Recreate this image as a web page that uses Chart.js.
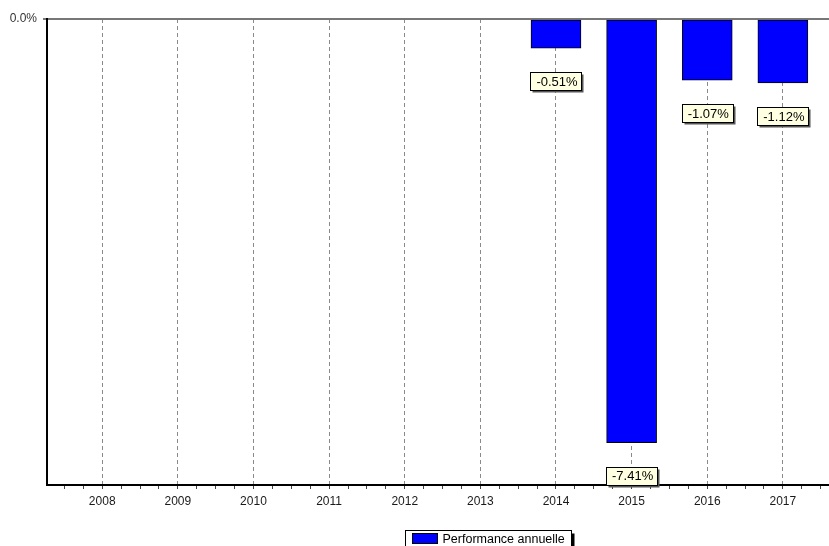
<!DOCTYPE html>
<html>
<head>
<meta charset="utf-8">
<script src="https://cdn.jsdelivr.net/npm/chart.js@4/dist/chart.umd.min.js"></script>
<style>
  html, body { margin: 0; padding: 0; background: #fff; }
  #wrap { width: 829px; height: 546px; }
</style>
</head>
<body>
<div id="wrap"><canvas id="graf" width="829" height="546"></canvas></div>
<script>
// donnees du graphique
const annees = [2008, 2009, 2010, 2011, 2012, 2013, 2014, 2015, 2016, 2017];
const performances = [null, null, null, null, null, null, -0.51, -7.41, -1.07, -1.12];
const etiquettes = ["", "", "", "", "", "", "-0.51%", "-7.41%", "-1.07%", "-1.12%"];
const nomSerie = "Performance annuelle";

const police = "'Liberation Sans', Arial, sans-serif";

// etiquettes jaunes sous les barres + legende encadree
const pluginEtiquettes = {
    id: "etiquettes",
    afterDatasetsDraw(chart) {
        const ctx = chart.ctx;
        const meta = chart.getDatasetMeta(0);
        ctx.save();
        ctx.font = "13px " + police;
        ctx.textAlign = "center";
        ctx.textBaseline = "middle";
        meta.data.forEach((bar, i) => {
            const txt = etiquettes[i];
            if (!txt || performances[i] === null) return;
            const w = Math.round(ctx.measureText(txt).width) + 10;
            const h = 18;
            const cx = bar.x;
            const cy = bar.y + 33;
            const x0 = Math.round(cx - w / 2) + 0.5;
            const y0 = Math.round(cy - h / 2) + 0.5;
            // ombre
            ctx.fillStyle = "#555";
            ctx.fillRect(x0 + 2, y0 + 2, w, h);
            ctx.fillStyle = "#FFFFE1";
            ctx.fillRect(x0, y0, w, h);
            ctx.strokeStyle = "#000";
            ctx.lineWidth = 1;
            ctx.strokeRect(x0, y0, w, h);
            ctx.fillStyle = "#000";
            ctx.fillText(txt, cx + 1, cy + 1);
        });
        ctx.restore();
    },
    afterDraw(chart) {
        const ctx = chart.ctx;
        ctx.save();
        ctx.font = "12.5px " + police;
        const tw = ctx.measureText(nomSerie).width;
        const lx = 405.5, ly = 530.5;
        const lw = Math.round(36 + tw + 8), lh = 18;
        ctx.fillStyle = "#000";
        ctx.fillRect(lx + 3, ly + 3, lw, lh);
        ctx.fillStyle = "#fff";
        ctx.fillRect(lx, ly, lw, lh);
        ctx.strokeStyle = "#000";
        ctx.lineWidth = 1;
        ctx.strokeRect(lx, ly, lw, lh);
        ctx.fillStyle = "#0000FF";
        ctx.fillRect(lx + 7, ly + 3, 25, 10);
        ctx.strokeRect(lx + 7, ly + 3, 25, 10);
        ctx.fillStyle = "#000";
        ctx.textBaseline = "middle";
        ctx.fillText(nomSerie, lx + 37, ly + 9);
        ctx.restore();
    }
};

const ctx = document.getElementById("graf").getContext("2d");
new Chart(ctx, {
    type: "bar",
    data: {
        datasets: [{
            label: nomSerie,
            data: annees.map((a, i) => ({ x: a, y: performances[i] })),
            backgroundColor: "#0000FF",
            borderColor: "#000",
            borderWidth: 1,
            borderSkipped: false,
            barThickness: 50
        }]
    },
    options: {
        responsive: false,
        animation: false,
        layout: { padding: { top: 19, right: 0, left: 0, bottom: 0 } },
        plugins: {
            legend: { display: false },
            tooltip: { enabled: false }
        },
        scales: {
            x: {
                type: "linear",
                offset: false,
                min: 2007.27,
                max: 2017.61,
                afterBuildTicks(scale) {
                    const t = [];
                    for (let v = 2007.5; v <= 2017.5; v += 0.25) t.push({ value: v });
                    scale.ticks = t;
                },
                afterFit(scale) { scale.height = 61; },
                ticks: {
                    autoSkip: false,
                    maxRotation: 0,
                    padding: 5,
                    color: "#1a1a1a",
                    font: { family: police, size: 12 },
                    callback: (v) => (annees.includes(v) ? String(v) : "")
                },
                grid: {
                    offset: false,
                    color: (c) => (c.tick && annees.includes(c.tick.value) ? "#8a8a8a" : "rgba(0,0,0,0)"),
                    tickColor: "#444",
                    tickLength: 4,
                    lineWidth: 1
                },
                border: { color: "#000", width: 2, dash: [4, 3] }
            },
            y: {
                min: -8.15,
                max: 0,
                afterBuildTicks(scale) { scale.ticks = [{ value: 0 }]; },
                afterFit(scale) { scale.width = 47; },
                ticks: {
                    padding: 6,
                    color: "#333",
                    font: { family: police, size: 12 },
                    callback: (v) => v.toFixed(1) + "%"
                },
                grid: {
                    color: "#777",
                    lineWidth: 2,
                    tickLength: 4
                },
                border: { color: "#000", width: 2 }
            }
        }
    },
    plugins: [pluginEtiquettes]
});
</script>
</body>
</html>
